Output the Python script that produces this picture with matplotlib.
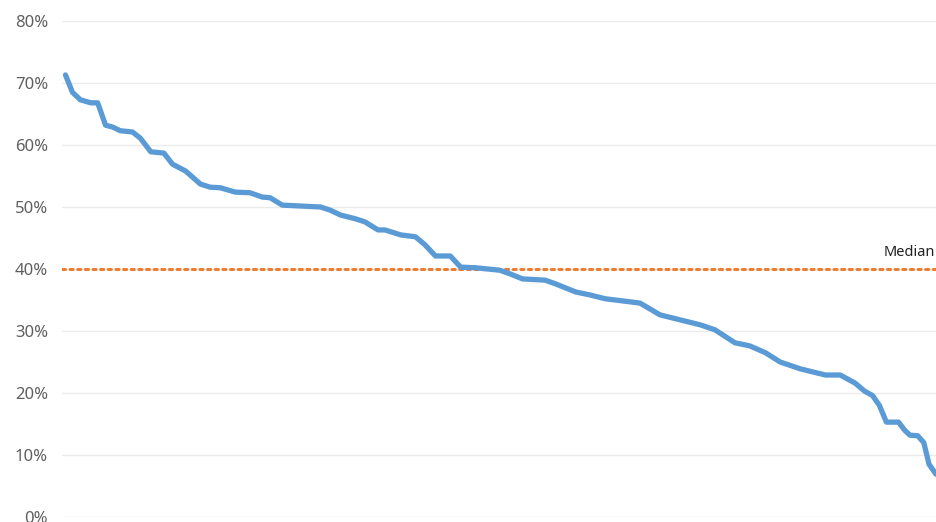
import matplotlib.pyplot as plt
import numpy as np

# ---------- data ----------
rank = [0, 0.8, 1.7, 2.9, 3.7, 4.0, 4.6, 5.4, 6.3, 7.7, 8.6, 9.8, 11.3, 12.3, 13.8,
        15.5, 16.6, 17.8, 19.5, 21.2, 22.6, 23.5, 24.9, 26.4, 29.3, 30.4, 31.6,
        33.3, 34.4, 35.9, 36.7, 38.5, 40.2, 41.3, 42.5, 44.2, 45.4, 47.1, 49.9,
        51.1, 52.5, 55.1, 56.3, 58.6, 60.3, 62.0, 64.3, 66.0, 68.3, 70.6, 72.9,
        74.6, 76.9, 78.6, 80.4, 82.1, 84.4, 87.3, 89.0, 90.7, 91.8, 92.7, 93.5,
        94.3, 95.7, 96.4, 97.0, 97.9, 98.6, 99.2, 100]
share = [71.3, 68.5, 67.3, 66.8, 66.8, 65.6, 63.2, 62.9, 62.3, 62.1, 61.1, 58.9,
         58.7, 56.9, 55.8, 53.7, 53.2, 53.1, 52.4, 52.3, 51.6, 51.5, 50.3, 50.2,
         50.0, 49.5, 48.7, 48.1, 47.6, 46.3, 46.3, 45.5, 45.2, 43.9, 42.1, 42.1,
         40.3, 40.2, 39.8, 39.2, 38.4, 38.2, 37.6, 36.3, 35.8, 35.2, 34.8, 34.5,
         32.6, 31.8, 31.0, 30.2, 28.1, 27.6, 26.5, 25.0, 23.9, 22.9, 22.9, 21.6,
         20.3, 19.6, 18.0, 15.3, 15.3, 14.0, 13.2, 13.1, 12.0, 8.5, 6.9]
median = 40
y_ticks = [0, 10, 20, 30, 40, 50, 60, 70, 80]

# ---------- style ----------
line_blue = "#5b9bd5"
median_orange = "#ed7d31"
grid_gray = "#ebebeb"
label_gray = "#5f5f5f"

plt.rcParams['font.family'] = ['Noto Sans', 'DejaVu Sans']

fig = plt.figure(figsize=(9.36, 5.22), dpi=100)
ax = fig.add_axes([62 / 936, 5 / 522, 874 / 936, 496 / 522])

ax.plot(rank, share, color=line_blue, linewidth=3.8, solid_joinstyle='round',
        solid_capstyle='round', zorder=3, clip_on=False)
ax.axhline(median, color=median_orange, linewidth=2.2, linestyle=(0, (1, 1.5)),
           dash_capstyle='round', zorder=2)
ax.text(0.999, median + 1.5, "Median", transform=ax.get_yaxis_transform(),
        ha='right', va='bottom', fontsize=10.5, fontweight='semibold', color="#222222")

ax.set_xlim(-0.4, 100)
ax.set_ylim(0, 80)
ax.set_yticks(y_ticks)
ax.set_yticklabels([f"{v}%" for v in y_ticks])
ax.set_xticks([])
ax.grid(axis='y', color=grid_gray, linewidth=1)
ax.set_axisbelow(True)
ax.tick_params(axis='y', length=0, pad=10, labelsize=12, labelcolor=label_gray)
for s in ax.spines.values():
    s.set_visible(False)

fig.savefig("out.png", dpi=100)
